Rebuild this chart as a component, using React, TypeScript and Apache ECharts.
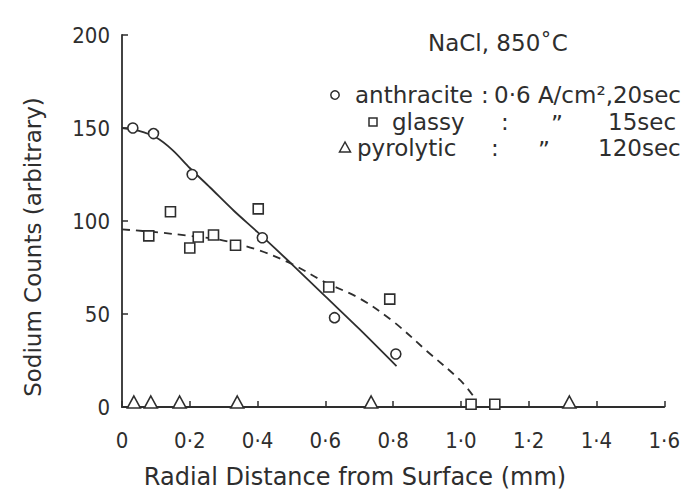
import React, { useEffect, useRef } from "react";
import * as echarts from "echarts";

// ---- data ----
const xTickLabels = ["0", "0·2", "0·4", "0·6", "0·8", "1·0", "1·2", "1·4", "1·6"];
const yTickLabels = ["0", "50", "100", "150", "200"];

const anthraciteX = [0.032, 0.093, 0.207, 0.414, 0.627, 0.808];
const anthraciteY = [150, 147, 125, 91, 48, 28.5];

const glassyX = [0.079, 0.143, 0.2, 0.225, 0.27, 0.335, 0.402, 0.61, 0.79, 1.03, 1.1];
const glassyY = [92, 105, 85.5, 91.4, 92.5, 87, 106.5, 64.5, 58, 1.5, 1.5];

const pyrolyticX = [0.035, 0.085, 0.17, 0.34, 0.735, 1.32];
const pyrolyticY = [0, 0, 0, 0, 0, 0];

const anthraciteFitX = [0, 0.05, 0.1, 0.15, 0.2, 0.26, 0.33, 0.4, 0.5, 0.6, 0.7, 0.81];
const anthraciteFitY = [150, 148.5, 145, 138, 128.5, 118, 105.5, 94, 77, 59.5, 42, 22];

const glassyFitX = [0, 0.1, 0.2, 0.3, 0.4, 0.5, 0.6, 0.7, 0.8, 0.9, 1.0, 1.04];
const glassyFitY = [95.5, 94, 92, 89.5, 84.5, 77, 67, 58.5, 46, 30, 14, 5];

const INK = "#2e2e2e";
const TEXT_FONT = '"DejaVu Sans", sans-serif';
const NUM_FONT = '"Liberation Sans Narrow", "DejaVu Sans Condensed", sans-serif';

const zip = (xs: number[], ys: number[]) => xs.map((x, i) => [x, ys[i]]);

export default function App() {
  const ref = useRef<HTMLDivElement>(null);
  useEffect(() => {
    if (!ref.current) return;
    const chart = echarts.init(ref.current, null, { renderer: "svg" });
    const txt = (text: string, x: number, y: number, size = 23, extra: any = {}) => ({
      type: "text",
      x,
      y,
      ...extra,
      style: {
        text,
        fontFamily: TEXT_FONT,
        fontSize: size,
        fill: INK,
        align: "left",
        verticalAlign: "middle",
        ...(extra.style || {}),
      },
    });
    const markerStyle = { color: "#ffffff", borderColor: INK, borderWidth: 1.6, opacity: 1 };
    const option: any = {
      animation: false,
      backgroundColor: "#ffffff",
      grid: { left: 122, right: 13, top: 35, bottom: 88, containLabel: false },
      xAxis: {
        type: "value",
        min: 0,
        max: 1.6,
        interval: 0.2,
        axisLine: { lineStyle: { color: INK, width: 1.8 } },
        axisTick: { inside: true, length: 6, lineStyle: { color: INK, width: 1.5 } },
        splitLine: { show: false },
        axisLabel: {
          margin: 22,
          fontSize: 22,
          fontFamily: NUM_FONT,
          color: INK,
          formatter: (v: number) => xTickLabels[Math.round(v / 0.2)] ?? "",
        },
      },
      yAxis: {
        type: "value",
        min: 0,
        max: 200,
        interval: 50,
        axisLine: { show: true, lineStyle: { color: INK, width: 1.8 } },
        axisTick: { show: true, inside: true, length: 6, lineStyle: { color: INK, width: 1.5 } },
        splitLine: { show: false },
        axisLabel: {
          margin: 12,
          fontSize: 22,
          fontFamily: NUM_FONT,
          color: INK,
          formatter: (v: number) => yTickLabels[Math.round(v / 50)] ?? "",
        },
      },
      series: [
        {
          name: "anthracite fit",
          type: "line",
          data: zip(anthraciteFitX, anthraciteFitY),
          smooth: 0.3,
          showSymbol: false,
          symbol: "none",
          lineStyle: { color: INK, width: 1.8 },
          z: 2,
        },
        {
          name: "glassy fit",
          type: "line",
          data: zip(glassyFitX, glassyFitY),
          smooth: 0.35,
          showSymbol: false,
          symbol: "none",
          lineStyle: { color: INK, width: 1.8, type: [8, 6] },
          z: 2,
        },
        {
          name: "anthracite",
          type: "scatter",
          data: zip(anthraciteX, anthraciteY),
          symbol: "circle",
          symbolSize: 10,
          itemStyle: markerStyle,
          z: 3,
        },
        {
          name: "glassy",
          type: "scatter",
          data: zip(glassyX, glassyY),
          symbol: "rect",
          symbolSize: 10,
          itemStyle: markerStyle,
          z: 3,
        },
        {
          name: "pyrolytic",
          type: "scatter",
          data: zip(pyrolyticX, pyrolyticY),
          symbol: "triangle",
          symbolSize: [13, 12],
          symbolOffset: [0, -5],
          itemStyle: markerStyle,
          z: 3,
        },
      ],
      graphic: [
        // axis titles
        txt("Sodium Counts (arbitrary)", 33, 247, 23, {
          rotation: Math.PI / 2,
          style: { align: "center" },
        }),
        txt("Radial Distance from Surface (mm)", 355, 477, 24, { style: { align: "center" } }),
        // annotation
        txt("NaCl, 850˚C", 428, 43, 23),
        { type: "circle", shape: { cx: 335, cy: 95, r: 4.2 }, style: { fill: "none", stroke: INK, lineWidth: 1.5 } },
        txt("anthracite", 355, 95),
        txt(":", 481, 95),
        txt("0·6 A/cm²,20sec", 494, 95),
        { type: "rect", shape: { x: 369, y: 118, width: 8, height: 8 }, style: { fill: "none", stroke: INK, lineWidth: 1.5 } },
        txt("glassy", 392, 122),
        txt(":", 501, 122),
        txt("\u201D", 551, 124),
        txt("15sec", 608, 122),
        {
          type: "polygon",
          shape: { points: [[345, 142], [339.5, 152], [350.5, 152]] },
          style: { fill: "none", stroke: INK, lineWidth: 1.5 },
        },
        txt("pyrolytic", 357, 148),
        txt(":", 491, 148),
        txt("\u201D", 538, 150),
        txt("120sec", 598, 148),
      ],
    };
    chart.setOption(option);
    return () => chart.dispose();
  }, []);
  return (
    <div
      ref={ref}
      style={{ position: "fixed", left: 0, top: 0, width: 683, height: 495, background: "#fff" }}
    />
  );
}
